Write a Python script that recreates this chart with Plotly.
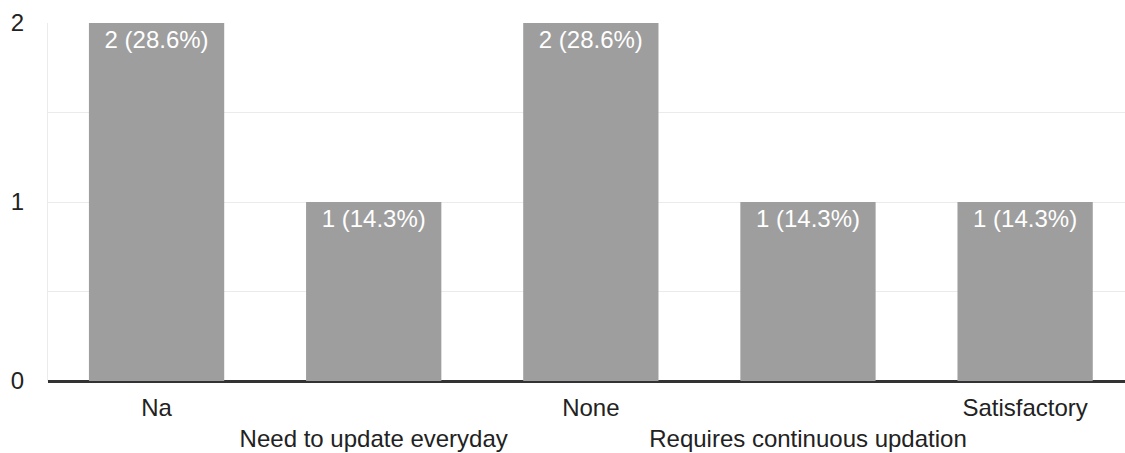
import plotly.graph_objects as go

categories = ["Na", "Need to update everyday", "None", "Requires continuous updation", "Satisfactory"]
counts = [2, 1, 2, 1, 1]
percents = [28.6, 14.3, 28.6, 14.3, 14.3]
y_ticks = [0, 1, 2]

labels = [f"{c} ({p}%)" for c, p in zip(counts, percents)]
ticktext = [("<br>" + c) if i % 2 else c for i, c in enumerate(categories)]

FONT = "Liberation Sans, Arial, sans-serif"

fig = go.Figure(go.Bar(
    x=categories, y=counts, text=labels,
    textposition="inside", insidetextanchor="end", textangle=0,
    textfont=dict(family=FONT, size=24, color="#ffffff"),
    marker=dict(color="#9e9e9e", line=dict(width=0)),
    hoverinfo="skip",
))

fig.update_layout(
    width=1125, height=453,
    margin=dict(l=48, r=0, t=23, b=72),
    paper_bgcolor="white", plot_bgcolor="white",
    bargap=0.377, showlegend=False,
    font=dict(family=FONT, size=24, color="#222222"),
)
fig.update_xaxes(
    type="category", range=[-0.5, 4.46], automargin=False,
    tickvals=categories, ticktext=ticktext, tickangle=0,
    showgrid=False, ticks="", showline=False, zeroline=False,
    ticklabelstandoff=10,
    tickfont=dict(family=FONT, size=24, color="#222222"),
)
fig.update_yaxes(
    range=[0, 2], tickvals=y_ticks, ticktext=[str(v) for v in y_ticks],
    automargin=False,
    showgrid=True, gridcolor="#ebebeb", gridwidth=1,
    minor=dict(tickvals=[0.5, 1.5], showgrid=True, gridcolor="#ebebeb", gridwidth=1),
    zeroline=True, zerolinecolor="#333333", zerolinewidth=3,
    showline=True, linecolor="#ebebeb", linewidth=1,
    ticks="", ticklabelstandoff=18,
    tickfont=dict(family=FONT, size=24, color="#222222"),
)

fig.write_html(
    "out.html",
    config={"displayModeBar": False, "staticPlot": True},
    post_script="document.body.style.margin='0';document.body.style.padding='0';",
)
